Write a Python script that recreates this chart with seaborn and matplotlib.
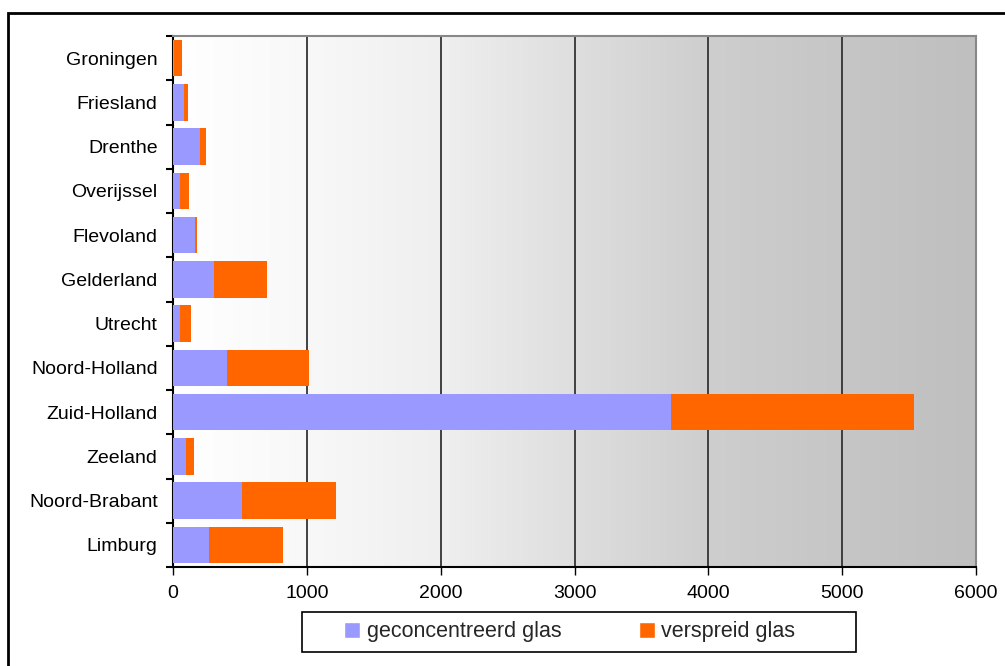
import numpy as np
import pandas as pd
import seaborn as sns
import matplotlib.pyplot as plt
from matplotlib.patches import Patch, Rectangle
from matplotlib.colors import LinearSegmentedColormap

# data
provinces = ["Groningen", "Friesland", "Drenthe", "Overijssel", "Flevoland", "Gelderland",
             "Utrecht", "Noord-Holland", "Zuid-Holland", "Zeeland", "Noord-Brabant", "Limburg"]
geconcentreerd = [10, 80, 200, 50, 165, 305, 50, 400, 3720, 95, 515, 270]
verspreid = [60, 30, 45, 70, 15, 395, 85, 615, 1820, 60, 700, 550]

blue = "#9999ff"
orange = "#ff6600"

sns.set_theme(style="white")
plt.rcParams['font.family'] = ['Liberation Sans', 'DejaVu Sans']

df = pd.DataFrame({"provincie": provinces, "geconcentreerd": geconcentreerd, "verspreid": verspreid})
df["totaal"] = df["geconcentreerd"] + df["verspreid"]

fig = plt.figure(figsize=(10.05, 6.66), dpi=100)
ax = fig.add_axes([173 / 1005, 99 / 666, 803 / 1005, 531 / 666])

# gradient background, white on the left to gray on the right
grad_cmap = LinearSegmentedColormap.from_list(
    "bg", [(0, "#ffffff"), (1 / 6, "#f8f8f8"), (2 / 6, "#efefef"), (3 / 6, "#dedede"),
           (4 / 6, "#cecece"), (5 / 6, "#c6c6c6"), (1, "#bfbfbf")])
ax.imshow(np.linspace(0, 1, 256).reshape(1, -1), cmap=grad_cmap, aspect="auto",
          extent=[0, 6000, 11.5, -0.5], zorder=0)

sns.barplot(data=df, x="totaal", y="provincie", color=orange, width=0.82,
            saturation=1, linewidth=0, ax=ax, zorder=3)
sns.barplot(data=df, x="geconcentreerd", y="provincie", color=blue, width=0.82,
            saturation=1, linewidth=0, ax=ax, zorder=4)

ax.set_xlim(0, 6000)
ax.set_ylim(11.5, -0.5)
ax.set_xticks(range(0, 6001, 1000))
for xv in range(1000, 6000, 1000):
    ax.axvline(xv, color="#333333", lw=1.3, zorder=2)

ax.set_xlabel("")
ax.set_ylabel("")

# ticks: x ticks down, y tick marks between categories
ax.tick_params(axis="x", which="major", bottom=True, length=6, width=1, color="black",
               labelsize=14, pad=7, labelcolor="black")
ax.tick_params(axis="y", which="major", left=False, length=0, labelsize=14, pad=11,
               labelcolor="black")
ax.set_yticks(np.arange(-0.5, 12, 1), minor=True)
ax.tick_params(axis="y", which="minor", left=True, length=5, width=1.5, color="black")

for side in ["top", "right"]:
    ax.spines[side].set_color("#888888")
    ax.spines[side].set_linewidth(1.5)
for side in ["left", "bottom"]:
    ax.spines[side].set_color("black")
    ax.spines[side].set_linewidth(1.5)

handles = [Patch(facecolor=blue, label="geconcentreerd glas"),
           Patch(facecolor=orange, label="verspreid glas")]
fig.legend(handles=handles, loc="center left", bbox_to_anchor=(344 / 1005, 34 / 666), ncol=2,
           frameon=False, fontsize=15.5, handlelength=0.75, handleheight=0.75,
           handletextpad=0.3, columnspacing=3.6, borderpad=0, borderaxespad=0)
fig.patches.append(Rectangle((302 / 1005, 14 / 666), 554 / 1005, 40 / 666,
                             transform=fig.transFigure, fill=False, edgecolor="black", lw=1.2))

# outer chart frame
fig.patches.append(Rectangle((8 / 1005, -0.1), 1.2, 653 / 666 + 0.1, transform=fig.transFigure,
                             fill=False, edgecolor="black", lw=2))

fig.savefig("out.png", dpi=100)
